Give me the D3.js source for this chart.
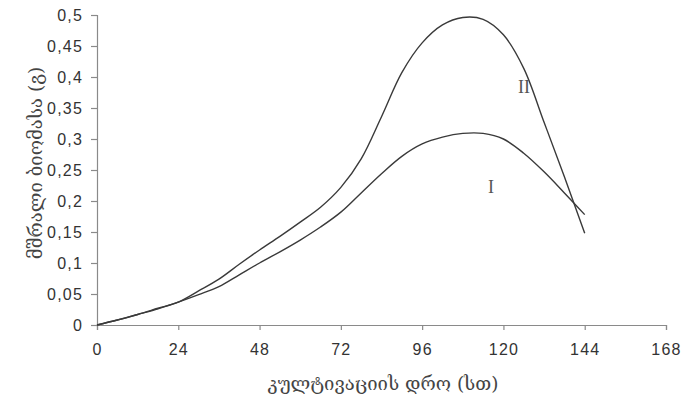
<!DOCTYPE html>
<html><head><meta charset="utf-8">
<script src="https://cdn.jsdelivr.net/npm/d3@7"></script>
<style>
html,body{margin:0;padding:0;background:#fff;}
svg{display:block;}
</style></head>
<body>
<svg id="c" width="686" height="406"></svg>
<script>
const hours = [0,6,12,18,24,30,36,42,48,54,60,66,72,78,84,90,96,102,108,114,120,126,132,138,144];
const seriesI  = [0,0.008,0.017,0.026,0.037,0.049,0.062,0.081,0.100,0.118,0.137,0.158,0.182,0.213,0.244,0.272,0.292,0.303,0.309,0.309,0.300,0.277,0.247,0.213,0.178];
const seriesII = [0,0.008,0.017,0.027,0.037,0.055,0.074,0.098,0.121,0.143,0.166,0.190,0.222,0.268,0.336,0.407,0.455,0.484,0.496,0.493,0.468,0.414,0.327,0.239,0.148];
const xTicks = [0,24,48,72,96,120,144,168];
const yTicks = [0,0.05,0.1,0.15,0.2,0.25,0.3,0.35,0.4,0.45,0.5];
const xTitle = "კულტივაციის დრო (სთ)";
const yTitle = "მშრალი ბიომასა (გ)";
const seriesLabels = ["I","II"];

const svg = d3.select("#c");
const x = d3.scaleLinear().domain([0,168]).range([97,666]);
const y = d3.scaleLinear().domain([0,0.5]).range([325,15]);
const fmt = v => String(+v.toFixed(2)).replace(".", ",");

const axisColor = "#8a8a8a";
const gx = svg.append("g").attr("transform","translate(0,325)")
  .call(d3.axisBottom(x).tickValues(xTicks).tickSize(5).tickPadding(14).tickFormat(d=>d));
const gy = svg.append("g").attr("transform","translate(97,0)")
  .call(d3.axisLeft(y).tickValues(yTicks).tickSize(6).tickPadding(8).tickFormat(fmt));
[gx,gy].forEach(g=>{
  g.select(".domain").attr("stroke",axisColor).attr("stroke-width",1.2);
  g.selectAll(".tick line").attr("stroke",axisColor).attr("stroke-width",1.2);
  g.selectAll(".tick text").attr("fill","#333").attr("font-family","'Liberation Sans', Arial, sans-serif")
    .attr("font-size",16).style("letter-spacing","1.2px");
});
gy.selectAll(".tick text").attr("dy","0.35em");

const line = d3.line().x((d,i)=>x(hours[i])).y(d=>y(d)).curve(d3.curveCatmullRom.alpha(0.5));
[seriesI, seriesII].forEach(s=>{
  svg.append("path").attr("d",line(s)).attr("fill","none").attr("stroke","#3a3a3a").attr("stroke-width",1.4);
});

svg.append("text").attr("x",491).attr("y",193).attr("text-anchor","middle")
  .attr("font-family","'Liberation Serif', 'Times New Roman', serif").attr("font-size",18).attr("fill","#555").text(seriesLabels[0]);
svg.append("text").attr("x",524).attr("y",93).attr("text-anchor","middle")
  .attr("font-family","'Liberation Serif', 'Times New Roman', serif").attr("font-size",18).attr("fill","#555").text(seriesLabels[1]);

svg.append("text").attr("x",383).attr("y",390).attr("text-anchor","middle")
  .attr("font-family","'DejaVu Serif', serif").attr("font-size",18.5).attr("fill","#444").text(xTitle);
svg.append("text").attr("transform","translate(42,163) rotate(-90)").attr("text-anchor","middle")
  .attr("font-family","'DejaVu Serif', serif").attr("font-size",18.5).attr("fill","#444").text(yTitle);
</script>
</body></html>
